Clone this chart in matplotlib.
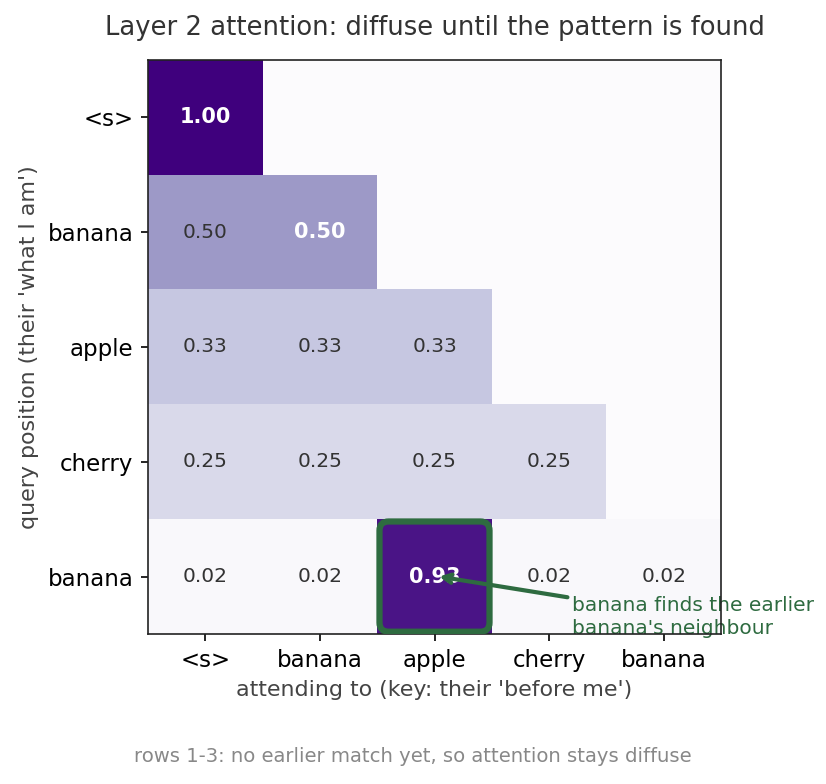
import numpy as np
import matplotlib
matplotlib.use("Agg")
from matplotlib import pyplot as plt
from matplotlib.patches import FancyBboxPatch

tokens = ["<s>", "banana", "apple", "cherry", "banana"]

row_s = [1.00, 0, 0, 0, 0]
row_banana1 = [0.50, 0.50, 0, 0, 0]
row_apple = [0.33, 0.33, 0.33, 0, 0]
row_cherry = [0.25, 0.25, 0.25, 0.25, 0]
row_banana2 = [0.02, 0.02, 0.93, 0.02, 0.02]

# cells printed in bold white (row, col)
strong_cells = [(0, 0), (1, 1), (4, 2)]

attn = np.array([row_s, row_banana1, row_apple, row_cherry, row_banana2])
green = "#2e6b40"

fig = plt.figure(figsize=(826 / 150, 784 / 150), dpi=150)
ax = fig.add_axes([148 / 826, 1 - 634 / 784, 573 / 826, 574 / 784])
ax.imshow(attn, cmap="Purples", vmin=0, vmax=1, aspect="auto")

for i in range(attn.shape[0]):
    for j in range(i + 1):
        v = attn[i, j]
        if (i, j) in strong_cells:
            ax.text(j, i, f"{v:.2f}", ha="center", va="center",
                    color="white", fontweight="bold", fontsize=10)
        else:
            ax.text(j, i, f"{v:.2f}", ha="center", va="center",
                    color="#333333", fontsize=9.7)

# highlight the strong match
box = FancyBboxPatch((2 - 0.45, 4 - 0.45), 0.9, 0.9,
                     boxstyle="round,pad=0.03,rounding_size=0.08",
                     fill=False, edgecolor=green, linewidth=3, zorder=3)
ax.add_patch(box)
# text under the spine, arrow over the cell text
ax.text(3.2, 4.35, "banana finds the earlier\nbanana's neighbour",
        ha="left", va="center", color=green, fontsize=9.7,
        linespacing=1.25, zorder=2, clip_on=False)
ax.annotate("", xy=(2.04, 4.0), xytext=(3.16, 4.18), zorder=4,
            arrowprops=dict(arrowstyle="->", color=green, lw=2,
                            shrinkA=0, shrinkB=0))

ax.set_xticks(range(len(tokens)))
ax.set_xticklabels(tokens, fontsize=11)
ax.set_yticks(range(len(tokens)))
ax.set_yticklabels(tokens, fontsize=11)
for s in ax.spines.values():
    s.set_color("#222222")
ax.set_xlabel("attending to (key: their 'before me')", fontsize=10.6, color="#444444")
ax.set_ylabel("query position (their 'what I am')", fontsize=10.6, color="#444444")
ax.set_title("Layer 2 attention: diffuse until the pattern is found",
             fontsize=12.4, color="#333333", pad=12)

fig.text(0.5, 1 - 757 / 784, "rows 1-3: no earlier match yet, so attention stays diffuse",
         ha="center", va="center", fontsize=9.4, color="#888888")

plt.savefig("out.png", dpi=150)
